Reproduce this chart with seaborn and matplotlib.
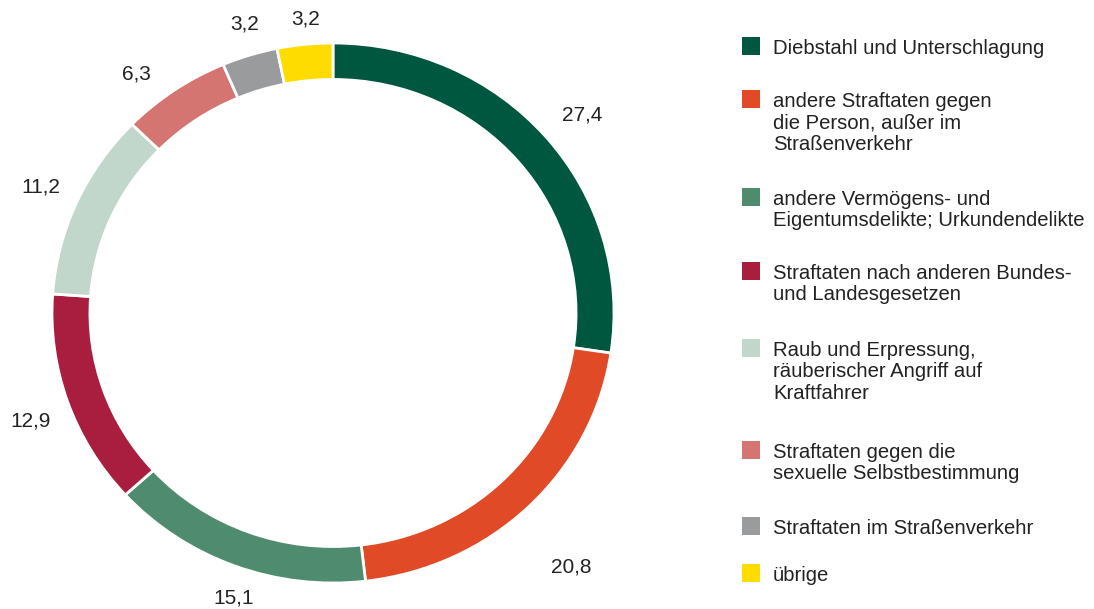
import numpy as np
import pandas as pd
import seaborn as sns
import matplotlib.pyplot as plt
from matplotlib.patches import Rectangle

# data (shares in %)
categories = [
    'Diebstahl und Unterschlagung',
    'andere Straftaten gegen\ndie Person, außer im\nStraßenverkehr',
    'andere Vermögens- und\nEigentumsdelikte; Urkundendelikte',
    'Straftaten nach anderen Bundes-\nund Landesgesetzen',
    'Raub und Erpressung,\nräuberischer Angriff auf\nKraftfahrer',
    'Straftaten gegen die\nsexuelle Selbstbestimmung',
    'Straftaten im Straßenverkehr',
    'übrige',
]
shares = [27.4, 20.8, 15.1, 12.9, 11.2, 6.3, 3.2, 3.2]
colors = ['#00573F', '#E04A26', '#4F8C6F', '#A91D3F',
          '#C2D7CB', '#D57572', '#9A9B9D', '#FFDC00']

df = pd.DataFrame({'kategorie': categories, 'anteil': shares})

sns.set_theme(style='white')
plt.rcParams['font.family'] = ['Liberation Sans', 'DejaVu Sans']
palette = sns.color_palette(colors)

W, H = 1094, 609
fig = plt.figure(figsize=(W / 100, H / 100), dpi=100)
ax = fig.add_axes([52 / W, (H - 583) / H, 562 / W, 540 / H])

wedges, _ = ax.pie(df['anteil'], colors=palette, startangle=90, counterclock=False,
                   wedgeprops=dict(width=0.135, edgecolor='white', linewidth=2))
ax.set_aspect('auto')
ax.set_xlim(-1, 1)
ax.set_ylim(-1, 1)

# value labels outside the ring (distance / angle nudge per label, as in the original)
label_dist = [1.15, 1.265, 1.115, 1.15, 1.14, 1.13, 1.115, 1.095]
label_nudge = [-1.2, -2.0, 2.0, 1.3, 0.0, 4.0, -0.8, -0.6]
total = df['anteil'].sum()
cum = df['anteil'].cumsum() - df['anteil'] / 2
for val, c, r, dn in zip(df['anteil'], cum, label_dist, label_nudge):
    theta = np.deg2rad(90 - 360 * c / total + dn)
    ax.text(r * np.cos(theta), r * np.sin(theta), f'{val:.1f}'.replace('.', ','),
            ha='center', va='center', fontsize=15, color='#222222', clip_on=False)

# legend, square aligned with first text line
legend_top = [37, 90, 188, 262, 339, 441, 517, 564]
for lab, col, y in zip(df['kategorie'], palette, legend_top):
    fig.add_artist(Rectangle((742 / W, 1 - (y + 18) / H), 18 / W, 18 / H,
                             transform=fig.transFigure, color=col, lw=0))
    fig.text(773 / W, 1 - (y + 2) / H, lab, ha='left', va='top',
             fontsize=14.6, color='#222222', linespacing=1.16)

fig.savefig('out.png', dpi=100)
